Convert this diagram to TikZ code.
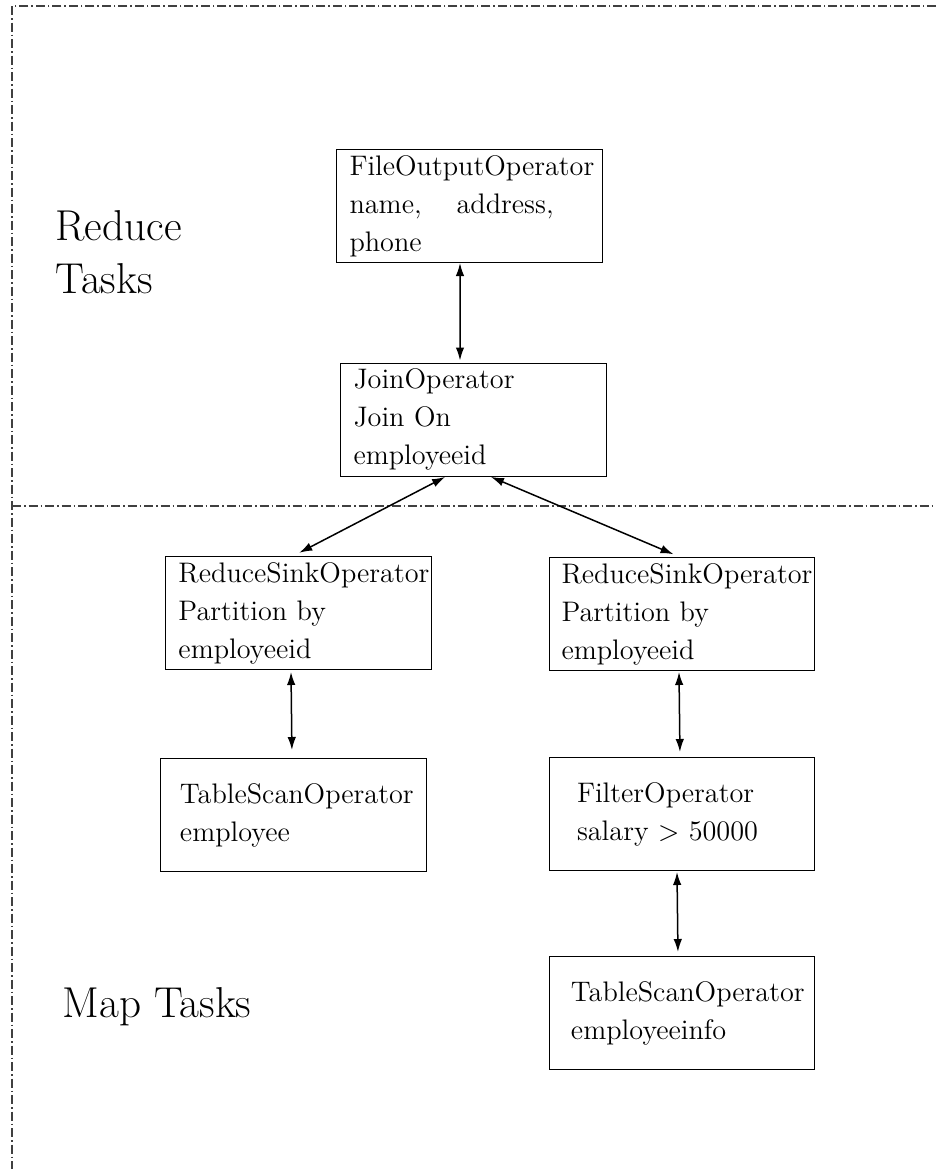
\documentclass[tikz,border=0pt]{standalone}
\usepackage{tikz}
\usetikzlibrary{arrows.meta,positioning}

\begin{document}
\begin{tikzpicture}[
    x=0.4pt, y=-0.4pt,
    op/.style={rectangle, draw, text width=96pt, inner xsep=5pt, inner ysep=2pt, minimum width=106pt, minimum height=45.2pt, align=left, font=\fontsize{11.3}{15.2}\selectfont},
    biarrow/.style={{Latex[length=5.2pt,width=3.4pt]}-{Latex[length=5.2pt,width=3.4pt]}, semithick},
    tasks/.style={anchor=west, inner sep=0pt, align=left, font=\fontsize{17.28}{21.2}\selectfont},
    split/.style={line width=0.6pt, black!75, dash pattern=on 3.6pt off 1.2pt on 0.6pt off 1.2pt}
]
\useasboundingbox (0,0) rectangle (936,1169);

% Frame and split between the two task groups
\coordinate (topright) at (936,6);
\coordinate (corner) at (12,6);
\coordinate (bottomleft) at (12,1169);
\coordinate (splitleft) at (12,506);
\coordinate (splitright) at (936,506);
\draw[split] (topright) -- (corner) -- (bottomleft);
\draw[split] (splitleft) -- (splitright);

\node[tasks] (reducetasks) at (55,252) {Reduce\\Tasks};
\node[tasks] (maptasks) at (62,1007) {Map Tasks};

% Reduce side
\node[op] (fileout) at (469.5,206) {FileOutputOperator\\name,\hspace{0.9em} address,\\phone};
\node[op] (join) at (473.5,419.5) {JoinOperator\\Join On\\employeeid};

% Map side
\node[op] (rsleft) at (298.5,613) {ReduceSinkOperator\\Partition by\\employeeid};
\node[op] (rsright) at (681.5,614) {ReduceSinkOperator\\Partition by\\employeeid};
\node[op, text width=90.8pt, below=35.2pt of rsleft, xshift=-2pt] (scanemp) {TableScanOperator\\employee};
\node[op, text width=83.6pt, below=34.4pt of rsright] (filter) {FilterOperator\\salary $>$ 50000};
\node[op, text width=88.4pt, below=34pt of filter] (scaninfo) {TableScanOperator\\employeeinfo};

% Connectors
\draw[biarrow, shorten >=0.8pt] ([xshift=-3.8pt]fileout.south) -- ([xshift=-5.4pt]join.north);
\draw[biarrow, shorten <=0.4pt, shorten >=2.8pt] ([xshift=-11pt]join.south) -- ([xshift=-2.2pt]rsleft.north);
\draw[biarrow, shorten <=0.4pt, shorten >=2.8pt] ([xshift=6.6pt]join.south) -- ([xshift=-0.6pt]rsright.north);
\draw[biarrow, shorten <=0.8pt, shorten >=3.2pt] ([xshift=-3pt]rsleft.south) -- ([xshift=-0.6pt]scanemp.north);
\draw[biarrow, shorten <=0.4pt, shorten >=2pt] ([xshift=-1pt]rsright.south) -- ([xshift=-0.6pt]filter.north);
\draw[biarrow, shorten <=0.4pt, shorten >=1.6pt] ([xshift=-1.8pt]filter.south) -- ([xshift=-1.4pt]scaninfo.north);

\end{tikzpicture}
\end{document}
